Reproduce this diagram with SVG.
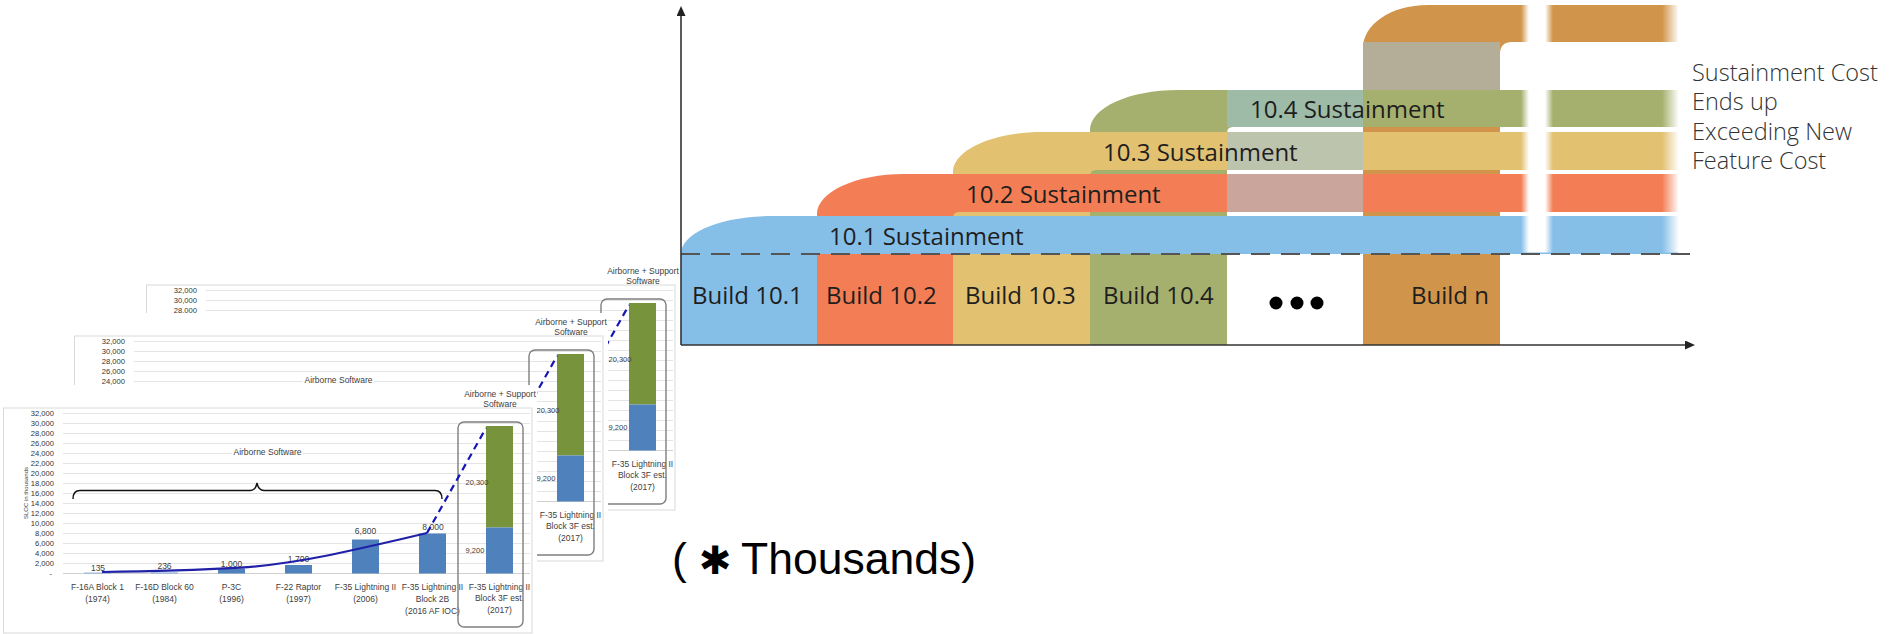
<svg xmlns="http://www.w3.org/2000/svg" width="1899" height="634" viewBox="0 0 1899 634">
<style>
  .ct{font-family:"Liberation Sans Narrow","Liberation Sans",Arial,sans-serif;font-size:8.5px;fill:#404040}
  .yl{font-size:7.6px;fill:#333}
  .m{text-anchor:middle}
  .e{text-anchor:end}
  .sm{font-size:7.5px}
  .grid{stroke:#E4E4E4;stroke-width:1;fill:none}
  .lbl{font-family:"Open Sans","Noto Sans",sans-serif;font-size:24px;fill:#1E1E1E}
  .note{font-family:"Open Sans","Noto Sans",sans-serif;font-size:23.5px;font-weight:300;fill:#333}
  .big{font-family:"Liberation Sans",Arial,sans-serif;font-size:44.5px;fill:#000}
  .axis{stroke:#333;stroke-width:1.6;fill:none}
</style>
<defs>
  <marker id="arrow" viewBox="0 0 10 9" markerWidth="10" markerHeight="9" refX="0" refY="4.5" orient="auto" markerUnits="userSpaceOnUse">
    <path d="M0,0 L10,4.5 L0,9 Z" fill="#222"/>
  </marker>
  <linearGradient id="gapFade" x1="0" y1="0" x2="1" y2="0">
    <stop offset="0" stop-color="#fff" stop-opacity="0"/>
    <stop offset="0.25" stop-color="#fff" stop-opacity="1"/>
    <stop offset="0.75" stop-color="#fff" stop-opacity="1"/>
    <stop offset="1" stop-color="#fff" stop-opacity="0"/>
  </linearGradient>
  <linearGradient id="endFade" x1="0" y1="0" x2="1" y2="0">
    <stop offset="0" stop-color="#fff" stop-opacity="0"/>
    <stop offset="1" stop-color="#fff" stop-opacity="1"/>
  </linearGradient>

  <!-- SLOC bar chart (one sheet) -->
  <g id="chart">
    <rect x="0" y="385" width="537" height="255" fill="#fff"/>
    <rect x="3.5" y="408" width="528.5" height="225" fill="none" stroke="#D9D9D9"/>
    <path class="grid" d="M63,413.5H530M63,423.5H530M63,433.5H530M63,443.5H530M63,453.5H530M63,463.5H530M63,473.5H530M63,483.5H530M63,493.5H530M63,503.5H530M63,513.5H530M63,523.5H530M63,533.5H530M63,543.5H530M63,553.5H530M63,563.5H530"/>
    <path d="M63,573.5H530" stroke="#D0D0D0" fill="none"/>
    <g class="ct yl e">
      <text x="54" y="416.3">32,000</text>
      <text x="54" y="426.3">30,000</text>
      <text x="54" y="436.3">28,000</text>
      <text x="54" y="446.3">26,000</text>
      <text x="54" y="456.3">24,000</text>
      <text x="54" y="466.3">22,000</text>
      <text x="54" y="476.3">20,000</text>
      <text x="54" y="486.3">18,000</text>
      <text x="54" y="496.3">16,000</text>
      <text x="54" y="506.3">14,000</text>
      <text x="54" y="516.3">12,000</text>
      <text x="54" y="526.3">10,000</text>
      <text x="54" y="536.3">8,000</text>
      <text x="54" y="546.3">6,000</text>
      <text x="54" y="556.3">4,000</text>
      <text x="54" y="566.3">2,000</text>
      <text x="52" y="576.3">-</text>
    </g>
    <text class="ct m" style="font-size:6px" transform="translate(28,493) rotate(-90)">SLOC in thousands</text>

    <!-- bars -->
    <g fill="#4F81BD">
      <rect x="84" y="572.5" width="27" height="1.3" fill="#9DB9DE"/>
      <rect x="151" y="572.3" width="27" height="1.5" fill="#9DB9DE"/>
      <rect x="218" y="568.5" width="27" height="5"/>
      <rect x="285" y="565" width="27" height="8.5"/>
      <rect x="352" y="539.5" width="27" height="34"/>
      <rect x="419" y="533.5" width="27" height="40"/>
    </g>
    <g class="ct m">
      <text x="98" y="571">135</text>
      <text x="164.5" y="569">236</text>
      <text x="231.5" y="567">1,000</text>
      <text x="298.5" y="561.5">1,700</text>
      <text x="365.5" y="533.5">6,800</text>
      <text x="433" y="530">8,000</text>
    </g>
    <g class="ct m">
      <text x="97.5" y="589.5">F-16A Block 1</text>
      <text x="97.5" y="602">(1974)</text>
      <text x="164.5" y="589.5">F-16D Block 60</text>
      <text x="164.5" y="602">(1984)</text>
      <text x="231.5" y="589.5">P-3C</text>
      <text x="231.5" y="602">(1996)</text>
      <text x="298.5" y="589.5">F-22 Raptor</text>
      <text x="298.5" y="602">(1997)</text>
      <text x="365.5" y="589.5">F-35 Lightning II</text>
      <text x="365.5" y="602">(2006)</text>
      <text x="432.5" y="589.5">F-35 Lightning II</text>
      <text x="432.5" y="602">Block 2B</text>
      <text x="432.5" y="613.5">(2016 AF IOC)</text>
    </g>

    <!-- airborne software bracket -->
    <path d="M73,499 C73,493 75,490.5 80,490.5 H250 C254,490.5 256,488 257,483 C258,488 260,490.5 264,490.5 H435 C440,490.5 442,493 442,499" fill="none" stroke="#111" stroke-width="1.4"/>
    <rect x="232" y="446" width="71" height="11" fill="#fff"/>
    <text class="ct m" x="267.5" y="455">Airborne Software</text>

    <!-- Block 3F estimate -->
    <rect x="486" y="426" width="27" height="101.5" fill="#77933C"/>
    <rect x="486" y="527.5" width="27" height="46" fill="#4F81BD"/>
    <text class="ct m sm" x="477" y="485">20,300</text>
    <text class="ct m sm" x="475" y="553">9,200</text>
    <text class="ct m" x="500" y="396.5">Airborne + Support</text>
    <text class="ct m" x="500" y="406.5">Software</text>
    <g class="ct m">
      <text x="499.5" y="589.5">F-35 Lightning II</text>
      <text x="499.5" y="601">Block 3F est.</text>
      <text x="499.5" y="613">(2017)</text>
    </g>
    <rect x="458" y="422" width="65" height="205" rx="6" fill="none" stroke="#7F7F7F" stroke-width="1.4"/>

    <!-- growth trend -->
    <path d="M102,572 C150,571.3 200,569.8 240,567.6 C275,565.5 300,561 330,555 C365,547.5 400,539.5 427,533" fill="none" stroke="#2020A8" stroke-width="2.2"/>
    <path d="M427,533 L486,428" fill="none" stroke="#1515B5" stroke-width="2.2" stroke-dasharray="7 5"/>
  </g>
</defs>

<!-- stacked chart sheets -->
<use id="chart-back" href="#chart" transform="translate(143,-123)"/>
<use id="chart-middle" href="#chart" transform="translate(71,-72)"/>
<use id="chart-front" href="#chart"/>

<!-- builds and their sustainment bands -->
<g id="build-n">
  <path d="M1363,345 V48 C1363,25 1390,5 1428,5 H1678 V42 H1512 Q1500,42 1500,54 V345 Z" fill="#D0954A"/>
</g>
<g id="build-10-4">
  <path d="M1090,345 V130 C1090,108 1129,90 1178,90 H1678 V127 H1233 Q1227,127 1227,133 V345 Z" fill="#A6B06E"/>
</g>
<g id="build-10-3">
  <path d="M953,345 V172 C953,150 993,132 1042,132 H1678 V170 H1096 Q1090,170 1090,176 V345 Z" fill="#E2C171"/>
</g>
<g id="build-10-2">
  <path d="M817,345 V214 C817,192 856,174 904,174 H1678 V212 H959 Q953,212 953,218 V345 Z" fill="#F37E55"/>
</g>
<g id="build-10-1">
  <path d="M681,345 V254 C681,233 720,216 772,216 H1678 V254 H817 V345 Z" fill="#85BFE8"/>
</g>

<!-- band tints over the open slot and the Build n column -->
<g id="tints">
  <rect x="1227" y="90" width="136" height="37" fill="#9DBBA7"/>
  <rect x="1227" y="132" width="136" height="38" fill="#BDC4AE"/>
  <rect x="1227" y="174" width="136" height="38" fill="#C9A59B"/>
  <rect x="1363" y="42" width="137" height="48" fill="#B4AE99"/>
</g>

<!-- time break and fading band ends -->
<rect x="1521" y="0" width="32" height="252.5" fill="url(#gapFade)"/>
<rect x="1662" y="0" width="17" height="252.5" fill="url(#endFade)"/>

<!-- axes and baseline -->
<g id="connectors">
  <line x1="681" y1="254" x2="1694" y2="254" stroke="#555" stroke-width="2" stroke-dasharray="19 11"/>
  <line class="axis" x1="681" y1="345" x2="681" y2="16" marker-end="url(#arrow)"/>
  <line class="axis" x1="681" y1="345" x2="1685" y2="345" marker-end="url(#arrow)"/>
</g>

<!-- labels -->
<g id="labels">
  <text class="lbl" x="829" y="245">10.1 Sustainment</text>
  <text class="lbl" x="966" y="203">10.2 Sustainment</text>
  <text class="lbl" x="1103" y="161">10.3 Sustainment</text>
  <text class="lbl" x="1250" y="118">10.4 Sustainment</text>
  <text class="lbl" x="692" y="304">Build 10.1</text>
  <text class="lbl" x="826" y="304">Build 10.2</text>
  <text class="lbl" x="965" y="304">Build 10.3</text>
  <text class="lbl" x="1103" y="304">Build 10.4</text>
  <text class="lbl" x="1489" y="304" text-anchor="end">Build n</text>
  <g fill="#000">
    <circle cx="1276" cy="303" r="6.5"/>
    <circle cx="1297" cy="303" r="6.5"/>
    <circle cx="1317" cy="303" r="6.5"/>
  </g>
  <text class="note" x="1692" y="80.5">Sustainment Cost</text>
  <text class="note" x="1692" y="110">Ends up</text>
  <text class="note" x="1692" y="139.5">Exceeding New</text>
  <text class="note" x="1692" y="169">Feature Cost</text>
  <text class="big" y="574"><tspan x="672">(</tspan><tspan x="699" style="font-family:'DejaVu Sans',sans-serif;font-size:39px;font-weight:bold">✱</tspan><tspan x="741">Thousands)</tspan></text>
</g>
</svg>
